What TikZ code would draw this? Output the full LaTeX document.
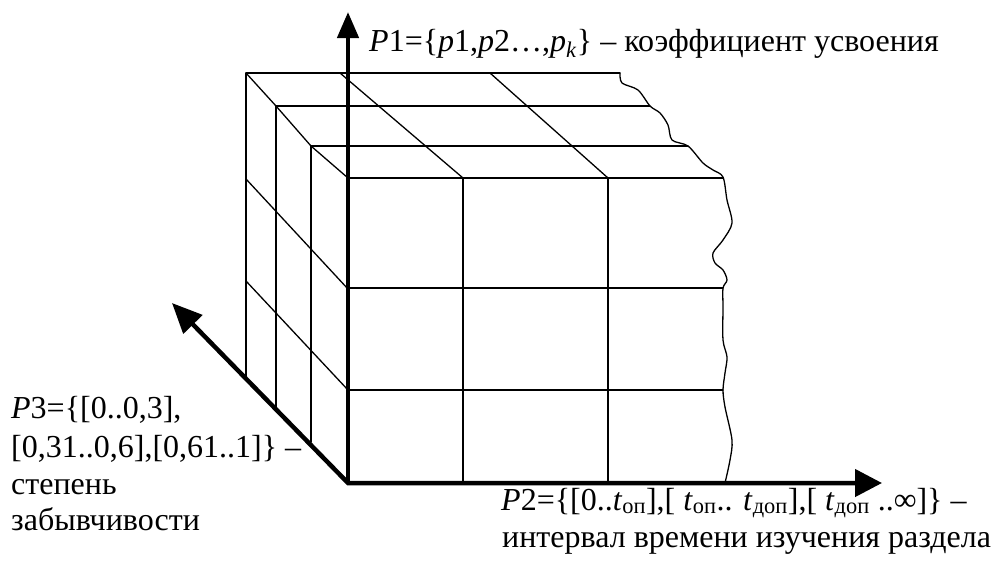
\documentclass[tikz,border=0pt]{standalone}
\usepackage{fontspec}
\setmainfont{Liberation Serif}
\usetikzlibrary{arrows.meta}
\begin{document}
\begin{tikzpicture}[x=1pt,y=-1pt,
  gridline/.style={line width=1.3pt, line cap=round, line join=round},
  axisline/.style={line width=4.5pt, line join=miter},
  lbl/.style={anchor=base west, inner sep=0pt, font=\fontsize{32}{38}\selectfont}]
\useasboundingbox (0,0) rectangle (996,566);
% key points
\coordinate (O) at (348,483);
\coordinate (T1) at (348,12);
\coordinate (T2) at (882,483);
\coordinate (T3) at (172,303);
% depth layers (top-left corners)
\coordinate (L0) at (246,73);
\coordinate (L1) at (276,106);
\coordinate (L2) at (311,146);
\coordinate (L3) at (348,178);
% top face horizontal lines
\draw[gridline] (L0) -- (620,73);
\draw[gridline] (L1) -- (650,106);
\draw[gridline] (L2) -- (688,146);
\draw[gridline] (L3) -- (723,178);
% top face diagonals
\draw[gridline] (L0) -- (L1) -- (L2) -- (L3);
\draw[gridline] (340,73) -- (463,178);
\draw[gridline] (490,73) -- (608,178);
% front face
\draw[gridline] (463,178) -- (463,483);
\draw[gridline] (608,178) -- (608,483);
\draw[gridline] (348,288) -- (723,288);
\draw[gridline] (348,390) -- (723,390);
% side face
\draw[gridline] (L0) -- (246,377);
\draw[gridline] (L1) -- (276,407);
\draw[gridline] (L2) -- (311,442);
\draw[gridline] (246,179) -- (348,289);
\draw[gridline] (246,281) -- (348,390);
% broken (wavy) edge
\draw[gridline] plot[smooth, tension=0.5] coordinates {
  (620,73) (622,83) (638,90) (650,106) (660,113) (668,125) (672,140)
  (688,146) (703,163) (713,170) (723,177) (727,200) (732,223) (723,240)
  (713,253) (715,263) (723,270) (727,280) (723,288) (723,307) (723,340)
  (727,357) (725,373) (723,390) (725,407) (732,440) (730,460) (725,483)};
% axes
\draw[axisline, {Triangle[length=30pt,width=26pt]}-{Triangle[length=27pt,width=27pt]}] (T3) -- (O) -- (T2);
\draw[axisline, -{Triangle[length=26pt,width=21pt]}] (O) -- (T1);
% labels
\node[lbl] (p1) at (369,51) {\textit{P}1=\{\textit{p}1,\textit{p}2…,\textit{p}\textsubscript{\textit{k}}\} – коэффициент усвоения};
\node[lbl] (p2a) at (501,510) {\textit{P}2=\{[0..\textit{t}\textsubscript{оп}],[ \textit{t}\textsubscript{оп}.. \textit{t}\textsubscript{доп}],[ \textit{t}\textsubscript{доп} ..∞]\} –};
\node[lbl] (p2b) at (502,547) {интервал времени изучения раздела};
\node[lbl] (p3a) at (11,418) {\textit{P}3=\{[0..0,3],};
\node[lbl] (p3b) at (11,457) {[0,31..0,6],[0,61..1]\} –};
\node[lbl] (p3c) at (11,494) {степень};
\node[lbl] (p3d) at (11,530) {забывчивости};
\end{tikzpicture}
\end{document}
